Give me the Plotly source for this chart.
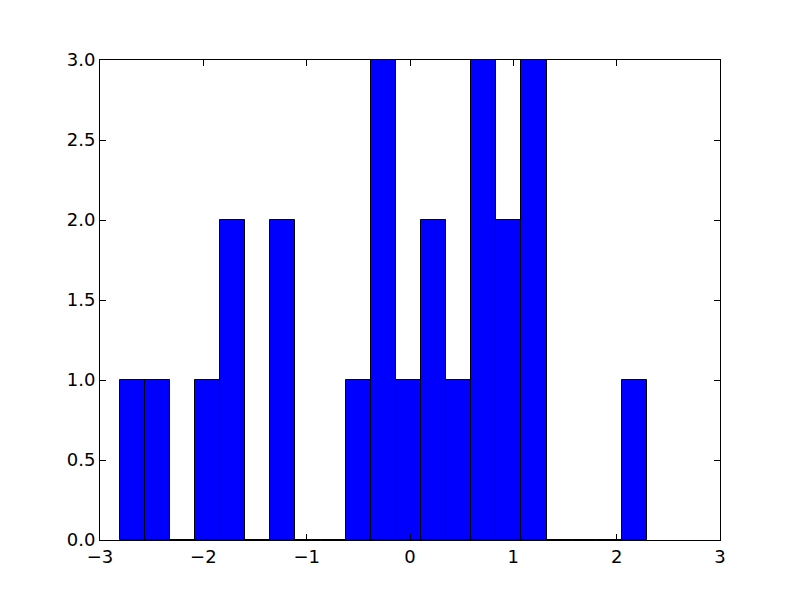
import plotly.graph_objects as go

# Histogram: 21 equal-width bins
bin_start = -2.81
bin_width = 0.243
counts = [1, 1, 0, 1, 2, 0, 2, 0, 0, 1, 3, 1, 2, 1, 3, 2, 3, 0, 0, 0, 1]

x_ticks = [-3, -2, -1, 0, 1, 2, 3]
y_ticks = [0.0, 0.5, 1.0, 1.5, 2.0, 2.5, 3.0]

centers = [bin_start + bin_width * (i + 0.5) for i in range(len(counts))]

fig = go.Figure(go.Bar(
    x=centers, y=counts, width=[bin_width] * len(counts),
    marker=dict(color="#0000ff", line=dict(color="black", width=1)),
))

axis_common = dict(
    showgrid=False, zeroline=False, showline=True, linecolor="black", linewidth=1,
    mirror="ticks", ticks="inside", ticklen=6, tickwidth=1, tickcolor="black",
    tickfont=dict(family="DejaVu Sans", size=18, color="black"),
)
fig.update_xaxes(range=[-3, 3], tickvals=x_ticks, ticktext=[str(v).replace("-", "\u2212") for v in x_ticks], **axis_common)
fig.update_yaxes(range=[0, 3], tickvals=y_ticks, ticktext=[f"{v:.1f}" for v in y_ticks], **axis_common)

fig.update_layout(
    width=792, height=592, bargap=0, showlegend=False,
    plot_bgcolor="white", paper_bgcolor="white",
    margin=dict(l=92, r=80, t=52, b=60),
)
fig.write_html("out.html")
